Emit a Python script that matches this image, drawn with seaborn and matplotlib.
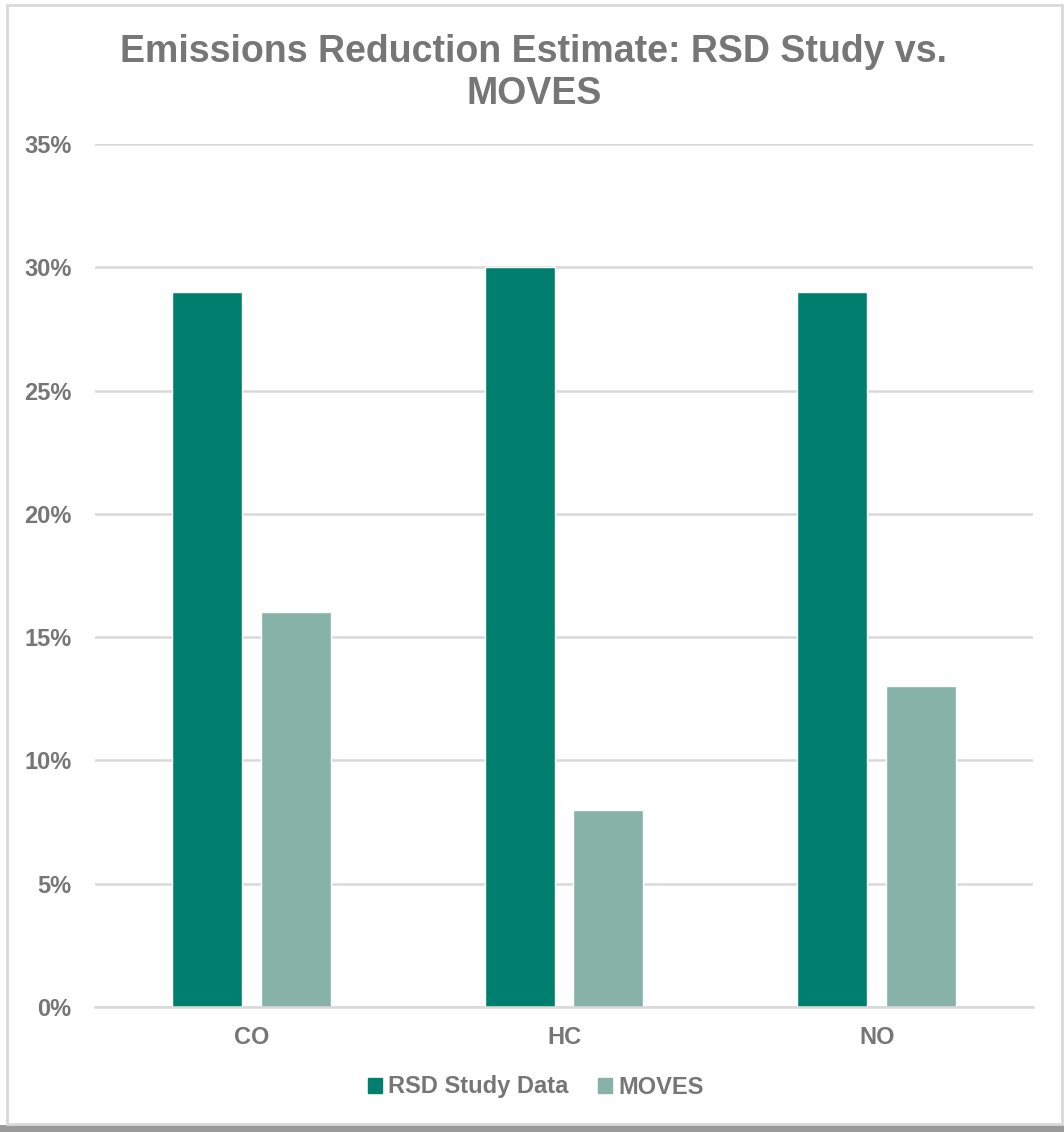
import matplotlib
matplotlib.use("Agg")
import matplotlib.pyplot as plt
import matplotlib.patches as mpatches
import pandas as pd
import seaborn as sns

# values (percent)
pollutants = ["CO", "HC", "NO"]
rsd_values = [29, 30, 29]
moves_values = [16, 8, 13]
series_names = ["RSD Study Data", "MOVES"]
y_ticks = [0, 5, 10, 15, 20, 25, 30, 35]

dark_teal = "#007F6E"
light_teal = "#86B2A8"
text_grey = "#767676"
grid_grey = "#D9D9D9"

df = pd.DataFrame({
    "Pollutant": pollutants * 2,
    "Value": rsd_values + moves_values,
    "Series": [series_names[0]] * 3 + [series_names[1]] * 3,
})

sns.set_style("white")
plt.rcParams["font.family"] = ["Liberation Sans", "DejaVu Sans"]
plt.rcParams["font.weight"] = "bold"

fig = plt.figure(figsize=(10.64, 11.32), dpi=100)
ax = fig.add_axes([95 / 1064, 1 - 1007 / 1132, (1033 - 95) / 1064, (1007 - 144) / 1132])

sns.barplot(data=df, x="Pollutant", y="Value", hue="Series",
            palette=[dark_teal, light_teal], saturation=1, width=0.568, gap=0.212,
            order=pollutants, hue_order=series_names, ax=ax, legend=True)

ax.set_xlim(-0.5, 2.5)
ax.set_ylim(0, 35)
ax.set_yticks(y_ticks)
ax.set_yticklabels([f"{t}%" for t in y_ticks], fontweight="bold", fontsize=17, color=text_grey)
ax.set_xticks(range(len(pollutants)))
ax.set_xticklabels(pollutants, fontweight="bold", fontsize=17, color=text_grey)
ax.set_xlabel("")
ax.set_ylabel("")
ax.grid(axis="y", color=grid_grey, linewidth=1.8)
ax.set_axisbelow(True)
for side in ["top", "right", "left"]:
    ax.spines[side].set_visible(False)
ax.spines["bottom"].set_color(grid_grey)
ax.spines["bottom"].set_linewidth(1.8)
ax.tick_params(axis="both", length=0)
ax.tick_params(axis="y", pad=17)
ax.tick_params(axis="x", pad=14)

ax.get_legend().remove()
handles = [mpatches.Patch(color=dark_teal), mpatches.Patch(color=light_teal)]
fig.legend(handles, series_names, loc="center", bbox_to_anchor=(536 / 1064, 1 - 1087 / 1132),
           ncol=2, frameon=False, handlelength=0.6, handleheight=0.6, handletextpad=0.25,
           columnspacing=1.25, prop={"size": 17, "weight": "bold"}, labelcolor=text_grey)

fig.text(534 / 1064, 1 - 34 / 1132, "Emissions Reduction Estimate: RSD Study vs.\nMOVES",
         ha="center", va="top", fontsize=27, fontweight="bold", color=text_grey,
         linespacing=1.22)

# chart frame with shadow
fig.patches.append(mpatches.Rectangle((0, 0), 1, 7 / 1132, transform=fig.transFigure,
                                      facecolor="#9A9A9A", edgecolor="none", zorder=-2))
fig.patches.append(mpatches.Rectangle((7 / 1064, 8 / 1132), 1055 / 1064, 1119 / 1132,
                                      transform=fig.transFigure, facecolor="none",
                                      edgecolor=grid_grey, linewidth=2, zorder=-1))

fig.savefig("out.png", dpi=100)
